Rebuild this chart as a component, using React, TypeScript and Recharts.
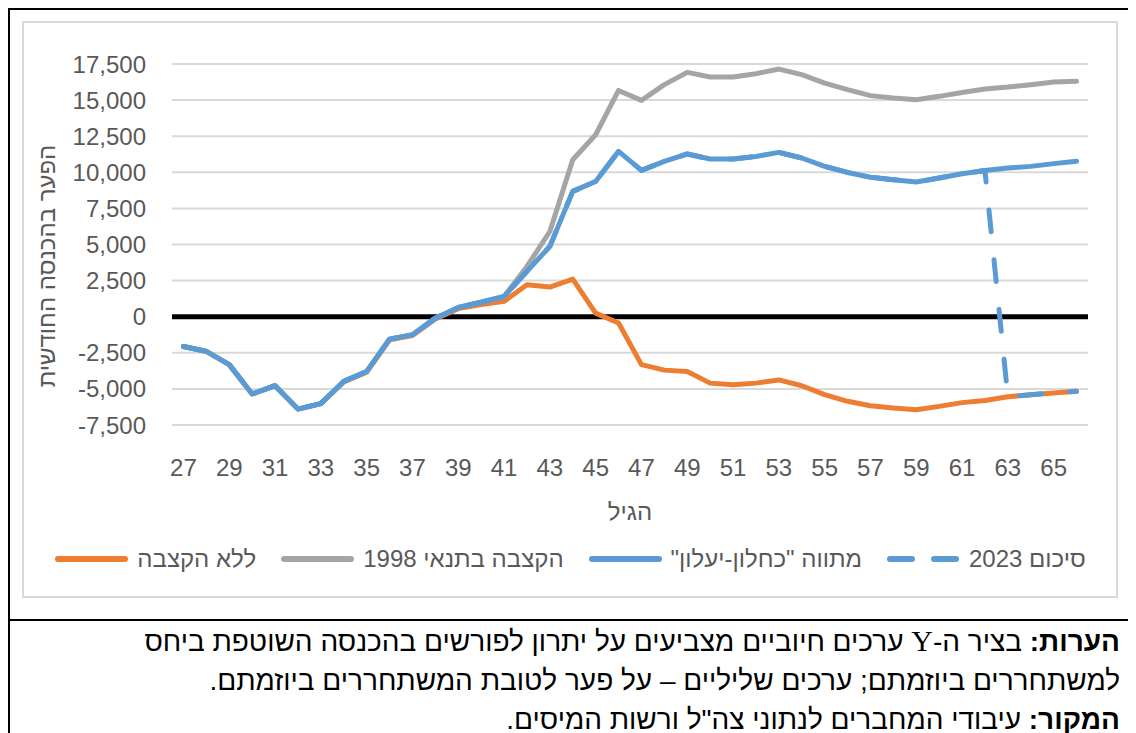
import React from 'react';
import { LineChart, Line, XAxis, YAxis, CartesianGrid, ReferenceLine, Label } from 'recharts';

// ages 27..66
const ages = [27, 28, 29, 30, 31, 32, 33, 34, 35, 36, 37, 38, 39, 40, 41, 42, 43, 44, 45, 46, 47, 48, 49, 50, 51, 52, 53, 54, 55, 56, 57, 58, 59, 60, 61, 62, 63, 64, 65, 66];

const noAllowance = [-2060, -2400, -3320, -5350, -4780, -6400, -6020, -4520, -3850, -1600, -1300, -150, 560, 850, 1060, 2216, 2050, 2600, 250, -440, -3320, -3700, -3800, -4600, -4710, -4600, -4380, -4780, -5400, -5860, -6170, -6320, -6440, -6210, -5950, -5800, -5550, -5400, -5280, -5170];
const allowance1998 = [-2060, -2400, -3320, -5350, -4780, -6400, -6020, -4480, -3790, -1550, -1250, -100, 640, 1000, 1400, 3480, 5900, 10870, 12600, 15670, 14980, 16070, 16920, 16600, 16600, 16830, 17150, 16760, 16180, 15720, 15310, 15140, 15030, 15260, 15530, 15770, 15900, 16070, 16250, 16300];
const kahlonYaalon = [-2060, -2400, -3320, -5350, -4780, -6400, -6020, -4480, -3790, -1550, -1250, -100, 640, 1000, 1400, 3140, 4870, 8680, 9370, 11450, 10130, 10760, 11270, 10920, 10920, 11100, 11380, 10990, 10410, 9990, 9660, 9490, 9330, 9600, 9900, 10130, 10300, 10410, 10600, 10760];
const agreement2023 = [-2060, -2400, -3320, -5350, -4780, -6400, -6020, -4480, -3790, -1550, -1250, -100, 640, 1000, 1400, 3140, 4870, 8680, 9370, 11450, 10130, 10760, 11270, 10920, 10920, 11100, 11380, 10990, 10410, 9990, 9660, 9490, 9330, 9600, 9900, 10130, -5550, -5400, -5280, -5170];

const xTicks = [27, 29, 31, 33, 35, 37, 39, 41, 43, 45, 47, 49, 51, 53, 55, 57, 59, 61, 63, 65];
const yTicks = [-7500, -5000, -2500, 0, 2500, 5000, 7500, 10000, 12500, 15000, 17500];

const ORANGE = '#ED7D31';
const GRAY = '#A5A5A5';
const BLUE = '#5B9BD5';
const AXIS_TEXT = '#595959';
const FONT = "'Liberation Sans', Arial, sans-serif";

const data = ages.map((age, i) => ({
  age,
  noAllowance: noAllowance[i],
  allowance1998: allowance1998[i],
  kahlonYaalon: kahlonYaalon[i],
  agreement2023: agreement2023[i],
}));

const legendItems = [
  { name: 'ללא הקצבה', color: ORANGE, dashed: false },
  { name: 'הקצבה בתנאי 1998', color: GRAY, dashed: false },
  { name: 'מתווה "כחלון-יעלון"', color: BLUE, dashed: false },
  { name: 'סיכום 2023', color: BLUE, dashed: true },
];

const YTitle = () => (
  <text
    x={24}
    y={245}
    transform="rotate(-90, 24, 245)"
    textAnchor="middle"
    dominantBaseline="central"
    fill={AXIS_TEXT}
    fontSize={24}
    fontFamily={FONT}
    direction="rtl"
  >
    הפער בהכנסה החודשית
  </text>
);

const App: React.FC = () => {
  return (
    <div style={{ position: 'relative', width: 1124, height: 730, fontFamily: FONT }}>
      <style>{`body{overflow:hidden}`}</style>
      {/* outer frame */}
      <div style={{ position: 'absolute', left: 0, top: 0, width: 1124, height: 730, border: '2px solid #000', borderBottom: 'none', boxSizing: 'border-box' }} />
      {/* chart box */}
      <div style={{ position: 'absolute', left: 14, top: 13, width: 1096, height: 577, border: '2px solid #d9d9d9', boxSizing: 'border-box' }} />
      <div style={{ position: 'absolute', left: 14, top: 13 }}>
        <LineChart width={1096} height={577} data={data} margin={{ top: 43, right: 30, bottom: 0, left: 0 }}>
          <CartesianGrid vertical={false} stroke="#d9d9d9" strokeWidth={2} />
          <XAxis
            dataKey="age"
            type="number"
            domain={[26.5, 66.5]}
            ticks={xTicks}
            interval={0}
            axisLine={false}
            tickLine={false}
            tickSize={0}
            tickMargin={34}
            height={173}
            tick={{ fill: AXIS_TEXT, fontSize: 24, fontFamily: FONT }}
          >
            <Label value="הגיל" position="center" fill={AXIS_TEXT} fontSize={24} fontFamily={FONT} />
          </XAxis>
          <YAxis
            type="number"
            domain={[-7500, 17500]}
            ticks={yTicks}
            interval={0}
            width={150}
            axisLine={false}
            tickLine={false}
            tickSize={0}
            tickMargin={26}
            tickFormatter={(v: number) => v.toLocaleString('en-US')}
            tick={{ fill: AXIS_TEXT, fontSize: 24, fontFamily: FONT }}
          >
            <Label content={<YTitle />} />
          </YAxis>
          <ReferenceLine y={0} stroke="#000" strokeWidth={5} />
          <Line type="linear" dataKey="noAllowance" stroke={ORANGE} strokeWidth={5} dot={false} strokeLinecap="round" strokeLinejoin="round" isAnimationActive={false} />
          <Line type="linear" dataKey="allowance1998" stroke={GRAY} strokeWidth={5} dot={false} strokeLinecap="round" strokeLinejoin="round" isAnimationActive={false} />
          <Line type="linear" dataKey="kahlonYaalon" stroke={BLUE} strokeWidth={5} dot={false} strokeLinecap="round" strokeLinejoin="round" isAnimationActive={false} />
          <Line type="linear" dataKey="agreement2023" stroke={BLUE} strokeWidth={5} strokeDasharray="22 28" dot={false} strokeLinecap="round" strokeLinejoin="round" isAnimationActive={false} />
        </LineChart>
      </div>
      {/* legend */}
      <div style={{ position: 'absolute', left: 14, top: 537, width: 1096, display: 'flex', justifyContent: 'center', alignItems: 'center', gap: 24 }}>
        {legendItems.map((item) => (
          <div key={item.name} style={{ display: 'flex', alignItems: 'center', gap: 8 }}>
            <svg width={75} height={10}>
              <line
                x1={4}
                y1={5}
                x2={71}
                y2={5}
                stroke={item.color}
                strokeWidth={6}
                strokeLinecap="round"
                strokeDasharray={item.dashed ? '22 22' : undefined}
              />
            </svg>
            <span style={{ direction: 'rtl', color: AXIS_TEXT, fontSize: 24, whiteSpace: 'nowrap' }}>{item.name}</span>
          </div>
        ))}
      </div>
      {/* separator */}
      <div style={{ position: 'absolute', left: 0, top: 611, width: 1124, height: 2, background: '#000' }} />
      {/* notes */}
      <div style={{ position: 'absolute', right: 12, top: 613, direction: 'rtl', textAlign: 'right', fontSize: 28, lineHeight: '39px', color: '#000', fontFamily: FONT, whiteSpace: 'nowrap' }}>
        <div>
          <b>הערות:</b> בציר ה-<span style={{ fontFamily: "'Liberation Serif', serif", fontSize: 30 }}>Y</span> ערכים חיוביים מצביעים על יתרון לפורשים בהכנסה השוטפת ביחס
        </div>
        <div>למשתחררים ביוזמתם; ערכים שליליים – על פער לטובת המשתחררים ביוזמתם.</div>
        <div>
          <b>המקור:</b> עיבודי המחברים לנתוני צה"ל ורשות המיסים.
        </div>
      </div>
    </div>
  );
};

export default App;
